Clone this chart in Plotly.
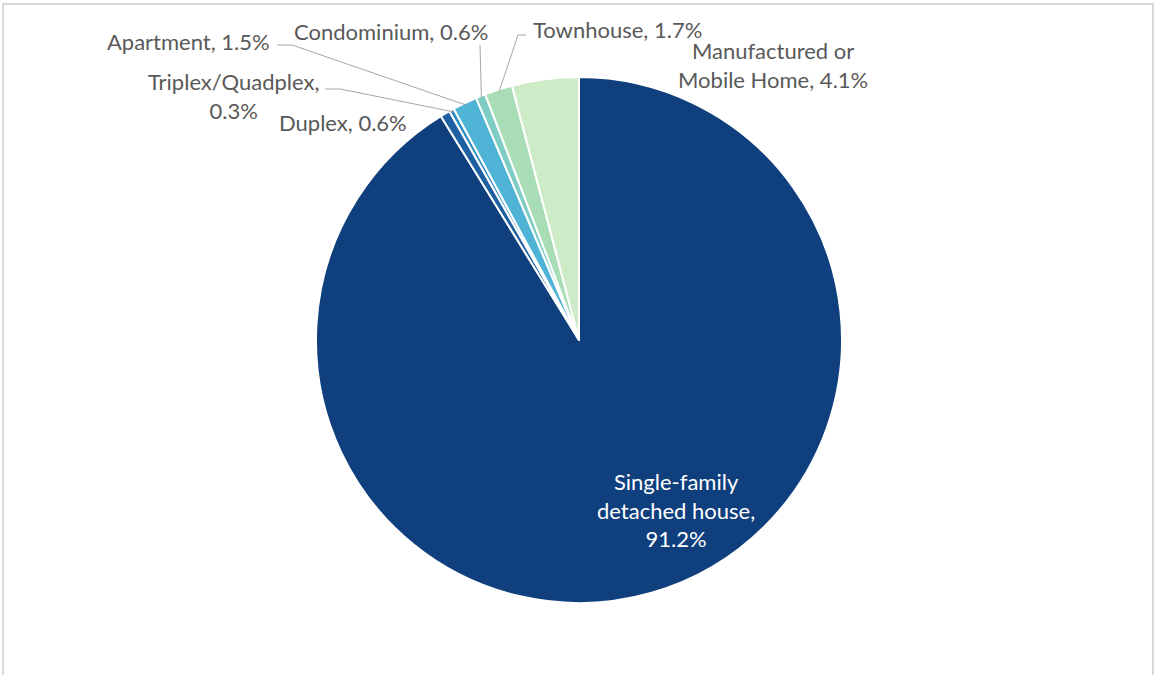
import math
import plotly.graph_objects as go

categories = ["Single-family detached house", "Duplex", "Triplex/Quadplex", "Apartment",
              "Condominium", "Townhouse", "Manufactured or Mobile Home"]
values = [91.2, 0.6, 0.3, 1.5, 0.6, 1.7, 4.1]
label_texts = ["Single-family<br>detached house,<br>91.2%", "Duplex, 0.6%", "Triplex/Quadplex,<br>0.3%",
               "Apartment, 1.5%", "Condominium, 0.6%", "Townhouse, 1.7%",
               "Manufactured or<br>Mobile Home, 4.1%"]
colors = ["#0f3f7d", "#1f60a3", "#2f8cc0", "#4fb3d6", "#7dcdc5", "#a8ddb5", "#cdebc7"]

W, H = 1159, 675
CX, CY, R = 579, 340, 263

fig = go.Figure(go.Pie(
    labels=categories, values=values, sort=False, direction="clockwise", rotation=0,
    marker=dict(colors=colors, line=dict(color="white", width=2)),
    textinfo="none", hoverinfo="label+percent", showlegend=False,
    domain=dict(x=[(CX - R) / W, (CX + R) / W], y=[1 - (CY + R) / H, 1 - (CY - R) / H]),
))

total = sum(values)
cum = 0
mids = []
for v in values:
    mids.append(2 * math.pi * (cum + v / 2) / total)
    cum += v


def edge(i, r=R - 2):
    a = mids[i]
    return CX + r * math.sin(a), CY - r * math.cos(a)


def px(x, y):
    return x / W, 1 - y / H


FONT = "Lato, Calibri, sans-serif"
label_pos = {
    0: (676, 510, "white"),
    1: (343, 122, None),
    2: (233, 96, None),
    3: (188, 41, None),
    4: (391, 31, None),
    5: (617, 29, None),
    6: (773, 65, None),
}
annotations = []
for i, (x, y, col) in label_pos.items():
    xx, yy = px(x, y)
    annotations.append(dict(x=xx, y=yy, xref="paper", yref="paper", text=label_texts[i],
                            xanchor="center", yanchor="middle",
                            showarrow=False, align="center",
                            font=dict(family=FONT, size=22, color=col or "#595959")))

# leader lines: (label anchor points) -> slice edge
leaders = {
    3: [(277, 45), (292, 45)],
    2: [(325, 89), (340, 89)],
    4: [(480, 45)],
    5: [(526, 35), (518, 35)],
}
shapes = []
for i, pts in leaders.items():
    ex, ey = edge(i)
    seq = pts + [(ex, ey)]
    path = "M " + " L ".join(f"{px(x, y)[0]:.5f},{px(x, y)[1]:.5f}" for x, y in seq)
    shapes.append(dict(type="path", path=path, xref="paper", yref="paper",
                       line=dict(color="#a6a6a6", width=1)))

# chart frame
shapes.append(dict(type="path", xref="paper", yref="paper",
                   path=f"M {3/W:.5f},-0.05 L {3/W:.5f},{1-4/H:.5f} L {1153/W:.5f},{1-4/H:.5f} L {1153/W:.5f},-0.05",
                   line=dict(color="#d9d9d9", width=2)))

fig.update_layout(width=W, height=H, margin=dict(l=0, r=0, t=0, b=0),
                  paper_bgcolor="white", plot_bgcolor="white",
                  annotations=annotations, shapes=shapes)
fig.write_html("out.html", config={"displayModeBar": False},
               post_script="document.body.style.margin='0';document.body.style.overflow='hidden';")
